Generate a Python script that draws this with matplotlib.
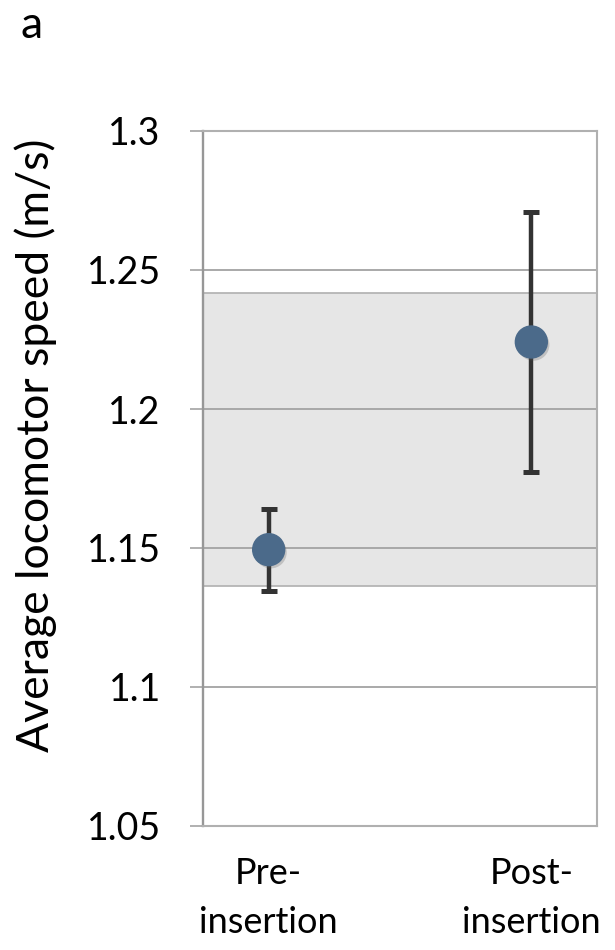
import matplotlib
matplotlib.use("Agg")
import matplotlib.pyplot as plt
import matplotlib.patheffects as pe

# Data
categories = ["Pre-\ninsertion", "Post-\ninsertion"]
mean_speed = [1.1494, 1.2241]
speed_error = [0.0147, 0.0466]
reference_range = [1.1364, 1.2417]
y_ticks = [1.05, 1.1, 1.15, 1.2, 1.25, 1.3]
y_tick_labels = ["1.05", "1.1", "1.15", "1.2", "1.25", "1.3"]
y_label = "Average locomotor speed (m/s)"
panel_label = "a"

FONT = ["Lato", "DejaVu Sans"]
plt.rcParams["font.family"] = FONT

W, H = 615, 950
fig = plt.figure(figsize=(W / 100, H / 100), dpi=100)
ax = fig.add_axes([203 / W, 1 - 826 / H, (597 - 203) / W, (826 - 131) / H])

x = list(range(len(categories)))

# Shaded reference band behind the grid
ax.axhspan(reference_range[0], reference_range[1], facecolor="#e6e6e6",
           edgecolor="#b5b5b5", linewidth=1.3, zorder=0.2)

# Means with error bars
marker_fx = [pe.SimplePatchShadow(offset=(1.5, -2.0), shadow_rgbFace="#555555", alpha=0.25),
             pe.Normal()]
eb = ax.errorbar(x, mean_speed, yerr=speed_error, fmt="o", ms=23,
                 mfc="#4b6a8a", mec="#4b6a8a", ecolor="#333333",
                 elinewidth=3.2, capsize=5.8, capthick=3.6, zorder=3)
eb[0].set_path_effects(marker_fx)
eb[0].set_zorder(4)

ax.set_xlim(-0.25, 1.25)
ax.set_ylim(y_ticks[0], y_ticks[-1])
ax.set_yticks(y_ticks)
ax.set_yticklabels(y_tick_labels)
ax.set_xticks(x)
ax.set_xticklabels(categories, linespacing=1.6)

ax.set_axisbelow(True)
ax.yaxis.grid(True, color="#a3a3a3", linewidth=1.3)
ax.xaxis.grid(False)

for side in ["top", "right", "bottom"]:
    ax.spines[side].set_color("#b0b0b0")
    ax.spines[side].set_linewidth(1.5)
ax.spines["left"].set_color("#979797")
ax.spines["left"].set_linewidth(1.7)

ax.tick_params(axis="y", length=9.4, width=1.2, color="#a3a3a3", pad=21,
               labelsize=27, labelcolor="black")
ax.tick_params(axis="x", length=0, pad=22, labelsize=26, labelcolor="black")

ylab = fig.text(36 / W, 1 - 445 / H, y_label, rotation=90, ha="center",
                va="center", fontsize=32)
fig.text(21 / W, 1 - 38 / H, panel_label, ha="left", va="baseline", fontsize=32)

# Scale the axis title so its length fits the plot height
fig.canvas.draw()
ext = ylab.get_window_extent()
ylab.set_fontsize(32 * 614 / ext.height)

fig.savefig("out.png", dpi=100)
